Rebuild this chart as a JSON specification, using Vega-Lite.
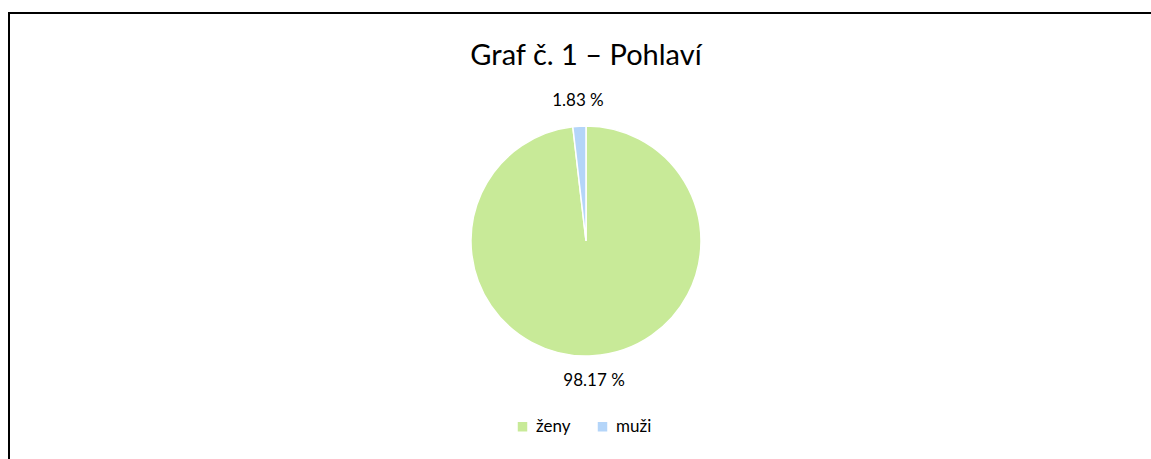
{
  "$schema": "https://vega.github.io/schema/vega-lite/v6.json",
  "width": 1151,
  "height": 459,
  "autosize": {"type": "fit", "contains": "padding"},
  "padding": {"left": 9, "top": 13, "right": -12, "bottom": -10},
  "background": "white",
  "view": {"stroke": "#000000", "strokeWidth": 2, "fill": "white"},
  "config": {
    "font": "Lato"
  },
  "title": {
    "text": "Graf č. 1 – Pohlaví",
    "font": "Lato",
    "fontSize": 29,
    "fontWeight": "normal",
    "color": "#000000",
    "anchor": "middle",
    "offset": -58
  },
  "data": {
    "values": [
      {"pohlavi": "ženy", "podil": 98.17, "label": "98.17 %", "ord": 1},
      {"pohlavi": "muži", "podil": 1.83, "label": "1.83 %", "ord": 2}
    ]
  },
  "encoding": {
    "theta": {"field": "podil", "type": "quantitative", "stack": true},
    "order": {"field": "ord", "type": "quantitative"}
  },
  "layer": [
    {
      "mark": {"type": "arc", "outerRadius": 115, "stroke": "#ffffff", "strokeWidth": 1.5},
      "encoding": {
        "color": {
          "field": "pohlavi",
          "type": "nominal",
          "scale": {"domain": ["ženy", "muži"], "range": ["#C8EA98", "#B4D5F9"]},
          "legend": {
            "title": null,
            "orient": "none",
            "direction": "horizontal",
            "legendX": 505,
            "legendY": 405,
            "symbolType": "square",
            "symbolSize": 90,
            "symbolStrokeWidth": 0,
            "labelFont": "Lato",
            "labelFontSize": 17,
            "labelColor": "#000000",
            "columnPadding": 23,
            "labelOffset": 5
          }
        }
      }
    },
    {
      "mark": {"type": "text", "radius": 140, "font": "Lato", "fontSize": 17, "color": "#000000"},
      "encoding": {
        "text": {"field": "label", "type": "nominal"}
      }
    }
  ]
}
